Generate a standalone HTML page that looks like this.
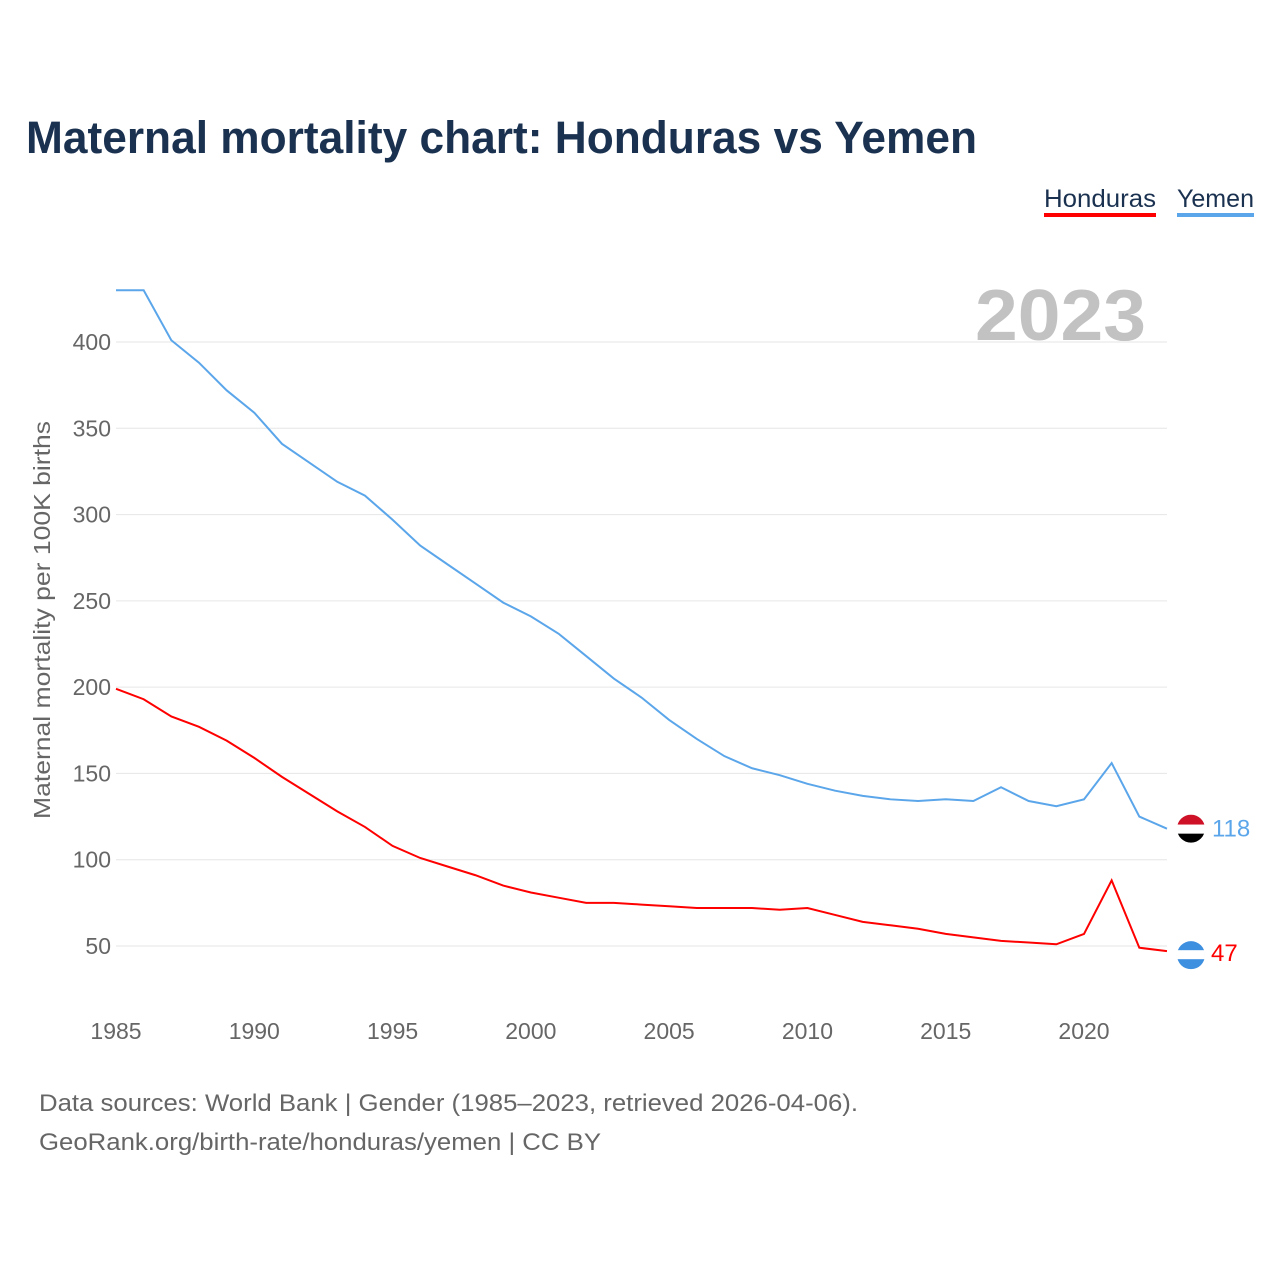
<!DOCTYPE html>
<html><head><meta charset="utf-8">
<style>
body{margin:0;background:#fff;width:1280px;height:1280px;overflow:hidden;font-family:"Liberation Sans",sans-serif;}
</style></head>
<body>
<svg id="chart" width="1280" height="1280" xmlns="http://www.w3.org/2000/svg" font-family="Liberation Sans, sans-serif">
<text x="26" y="153" font-size="45" font-weight="bold" fill="#1a3150" textLength="951" lengthAdjust="spacingAndGlyphs">Maternal mortality chart: Honduras vs Yemen</text>
<g><text x="1044" y="207" font-size="25" fill="#1a3150" textLength="112" lengthAdjust="spacingAndGlyphs">Honduras</text><rect x="1044" y="213" width="112" height="4" fill="#ff0000"/></g>
<g><text x="1177" y="207" font-size="25" fill="#1a3150" textLength="77" lengthAdjust="spacingAndGlyphs">Yemen</text><rect x="1177" y="213" width="77" height="4" fill="#5ba6ea"/></g>
<text x="975" y="340" font-size="72" font-weight="bold" fill="#c2c2c2" textLength="171" lengthAdjust="spacingAndGlyphs">2023</text>
<g id="grid"></g>
<g id="xticks"></g>
<text transform="translate(50,620) rotate(-90)" font-size="23" fill="#666" text-anchor="middle" textLength="398" lengthAdjust="spacingAndGlyphs">Maternal mortality per 100K births</text>
<g id="series"></g>
<text x="39" y="1111" font-size="24" fill="#666" textLength="819" lengthAdjust="spacingAndGlyphs">Data sources: World Bank | Gender (1985–2023, retrieved 2026-04-06).</text>
<text x="39" y="1150" font-size="24" fill="#666" textLength="562" lengthAdjust="spacingAndGlyphs">GeoRank.org/birth-rate/honduras/yemen | CC BY</text>
</svg>
<script>
const years=[];for(let y=1985;y<=2023;y++)years.push(y);
const yemen=[430,430,401,388,372,359,341,330,319,311,297,282,271,260,249,241,231,218,205,194,181,170,160,153,149,144,140,137,135,134,135,134,142,134,131,135,156,125,118];
const honduras=[199,193,183,177,169,159,148,138,128,119,108,101,96,91,85,81,78,75,75,74,73,72,72,72,71,72,68,64,62,60,57,55,53,52,51,57,88,49,47];
const yTicks=[50,100,150,200,250,300,350,400];
const xTicks=[1985,1990,1995,2000,2005,2010,2015,2020];
const NS="http://www.w3.org/2000/svg";
const X=y=>116+(y-1985)*(1084-116)/35;
const Y=v=>946-(v-50)*(946-342)/350;
function mk(t,a,p){const e=document.createElementNS(NS,t);for(const k in a)e.setAttribute(k,a[k]);p.appendChild(e);return e;}
const g=document.getElementById('grid'),xt=document.getElementById('xticks'),s=document.getElementById('series');
yTicks.forEach(v=>{
 const l=mk('line',{x1:116,x2:1167,y1:Y(v),y2:Y(v),stroke:'#e6e6e6','stroke-width':1},g);
 
 
 const t=mk('text',{x:111,y:Y(v)+8,'font-size':23,fill:'#666','text-anchor':'end'},g);t.textContent=v;
 
 
});
xTicks.forEach(v=>{
 const t=mk('text',{x:X(v),y:1039,'font-size':23,fill:'#666','text-anchor':'middle'},xt);t.textContent=v;
 
 
});
function line(data,color,name){
 const p=mk('polyline',{points:data.map((v,i)=>X(years[i])+','+Y(v)).join(' '),fill:'none',stroke:color,'stroke-width':2},s);
 
 
}
line(yemen,'#5ba6ea','yemen-line');
line(honduras,'#ff0000','honduras-line');
const last=years.length-1,lx=X(years[last]);
const yy=Y(yemen[last]);
const fy=mk('g',{},s);


const cp=mk('clipPath',{id:'cy'},fy);
mk('circle',{cx:lx+24,cy:yy,r:14},cp);
mk('rect',{x:lx+10,y:yy-14,width:28,height:10,fill:'#ce1126','clip-path':'url(#cy)'},fy);
mk('rect',{x:lx+10,y:yy-4,width:28,height:9,fill:'#fff','clip-path':'url(#cy)'},fy);
mk('rect',{x:lx+10,y:yy+5,width:28,height:10,fill:'#000','clip-path':'url(#cy)'},fy);
const ty=mk('text',{x:lx+45,y:yy+8,'font-size':24,fill:'#5ba6ea'},s);ty.textContent=yemen[last];


const hy=Y(honduras[last]);
const fh=mk('g',{},s);


mk('circle',{cx:lx+24,cy:hy+4,r:14,fill:'#3d8fe0'},fh);
mk('rect',{x:lx+10,y:hy-1,width:28,height:9,fill:'#fff'},fh);
const th=mk('text',{x:lx+44,y:hy+10,'font-size':24,fill:'#ff0000'},s);th.textContent=honduras[last];


</script>
</body></html>
